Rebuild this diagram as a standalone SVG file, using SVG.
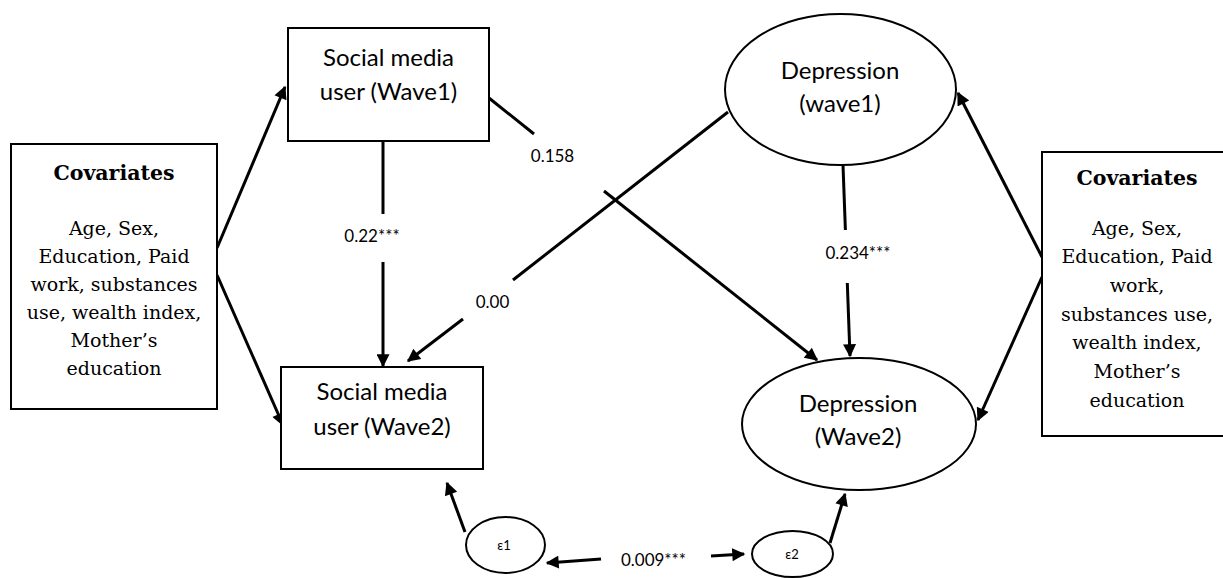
<svg xmlns="http://www.w3.org/2000/svg" width="1223" height="578" viewBox="0 0 1223 578">
<style>
.box{fill:#fff;stroke:#000;stroke-width:2}
.conn{fill:none;stroke:#000;stroke-width:3}
.arr{marker-end:url(#ah)}
.nd{font-family:Lato,"Open Sans",sans-serif;font-size:24px;text-anchor:middle}
.lbl{font-family:Lato,"Open Sans",sans-serif;font-size:17px;text-anchor:middle}
.eps{font-family:Lato,"Open Sans",sans-serif;font-size:13px;text-anchor:middle}
.cov-h{font-family:'DejaVu Serif',serif;font-size:20.5px;font-weight:bold;text-anchor:middle}
.cov{font-family:'DejaVu Serif',serif;font-size:19px;text-anchor:middle}
</style>
<defs>
<marker id="ah" viewBox="0 0 10 10" refX="9" refY="5" markerWidth="15" markerHeight="13" markerUnits="userSpaceOnUse" orient="auto">
<path d="M0,0 L10,5 L0,10 z" fill="#000"/>
</marker>
</defs>
<rect width="1223" height="578" fill="#fff"/>

<g id="connectors">
<line class="conn arr" x1="217" y1="248" x2="285" y2="87"/>
<line class="conn arr" x1="217" y1="275" x2="283" y2="425"/>
<line class="conn" x1="383" y1="141" x2="383" y2="214"/>
<line class="conn arr" x1="383" y1="262" x2="383" y2="366"/>
<line class="conn" x1="489" y1="98" x2="534" y2="134"/>
<line class="conn arr" x1="604" y1="191" x2="817" y2="360"/>
<line class="conn" x1="728" y1="112" x2="513" y2="280"/>
<line class="conn arr" x1="463" y1="319" x2="408" y2="361"/>
<line class="conn" x1="843" y1="165" x2="845.4" y2="230"/>
<line class="conn arr" x1="847.3" y1="283" x2="850" y2="356"/>
<line class="conn arr" x1="1042" y1="257" x2="958" y2="93"/>
<line class="conn arr" x1="1042" y1="277" x2="978" y2="420"/>
<line class="conn arr" x1="465" y1="532" x2="447" y2="483"/>
<line class="conn arr" x1="830" y1="543" x2="845" y2="494"/>
<line class="conn arr" x1="601" y1="559" x2="547" y2="563"/>
<line class="conn arr" x1="711" y1="556" x2="744" y2="554"/>
<text class="lbl" x="372" y="242">0.22***</text>
<text class="lbl" x="552.5" y="162">0.158</text>
<text class="lbl" x="492.5" y="308">0.00</text>
<text class="lbl" x="858" y="259">0.234***</text>
<text class="lbl" x="653.5" y="566">0.009***</text>
</g>

<g id="covariates-left">
<rect class="box" x="11" y="144" width="206" height="265"/>
<text class="cov-h" x="114" y="180">Covariates</text>
<text class="cov" x="114" y="235">Age, Sex,</text>
<text class="cov" x="114" y="263">Education, Paid</text>
<text class="cov" x="114" y="291">work, substances</text>
<text class="cov" x="114" y="319">use, wealth index,</text>
<text class="cov" x="114" y="347">Mother’s</text>
<text class="cov" x="114" y="375">education</text>
</g>

<g id="sm-wave1">
<rect class="box" x="288" y="28" width="201" height="113"/>
<text class="nd" x="388.5" y="66">Social media</text>
<text class="nd" x="388.5" y="100">user (Wave1)</text>
</g>

<g id="sm-wave2">
<rect class="box" x="281" y="367" width="202" height="102"/>
<text class="nd" x="382" y="400">Social media</text>
<text class="nd" x="382" y="435">user (Wave2)</text>
</g>

<g id="dep-wave1">
<ellipse class="box" cx="840.5" cy="89.5" rx="115.5" ry="75.5"/>
<text class="nd" x="840" y="79">Depression</text>
<text class="nd" x="840" y="112">(wave1)</text>
</g>

<g id="dep-wave2">
<ellipse class="box" cx="859" cy="424" rx="117" ry="66"/>
<text class="nd" x="858" y="412">Depression</text>
<text class="nd" x="858" y="445">(Wave2)</text>
</g>

<g id="covariates-right">
<rect class="box" x="1042" y="152" width="190" height="284"/>
<text class="cov-h" x="1137" y="185">Covariates</text>
<text class="cov" x="1137" y="235">Age, Sex,</text>
<text class="cov" x="1137" y="263">Education, Paid</text>
<text class="cov" x="1137" y="292">work,</text>
<text class="cov" x="1137" y="321">substances use,</text>
<text class="cov" x="1137" y="349">wealth index,</text>
<text class="cov" x="1137" y="378">Mother’s</text>
<text class="cov" x="1137" y="407">education</text>
</g>

<g id="eps1">
<ellipse class="box" cx="505.5" cy="545" rx="39.5" ry="28"/>
<text class="eps" x="504" y="550">ε1</text>
</g>

<g id="eps2">
<ellipse class="box" cx="792.5" cy="554" rx="40.5" ry="23"/>
<text class="eps" x="792" y="559">ε2</text>
</g>
</svg>
